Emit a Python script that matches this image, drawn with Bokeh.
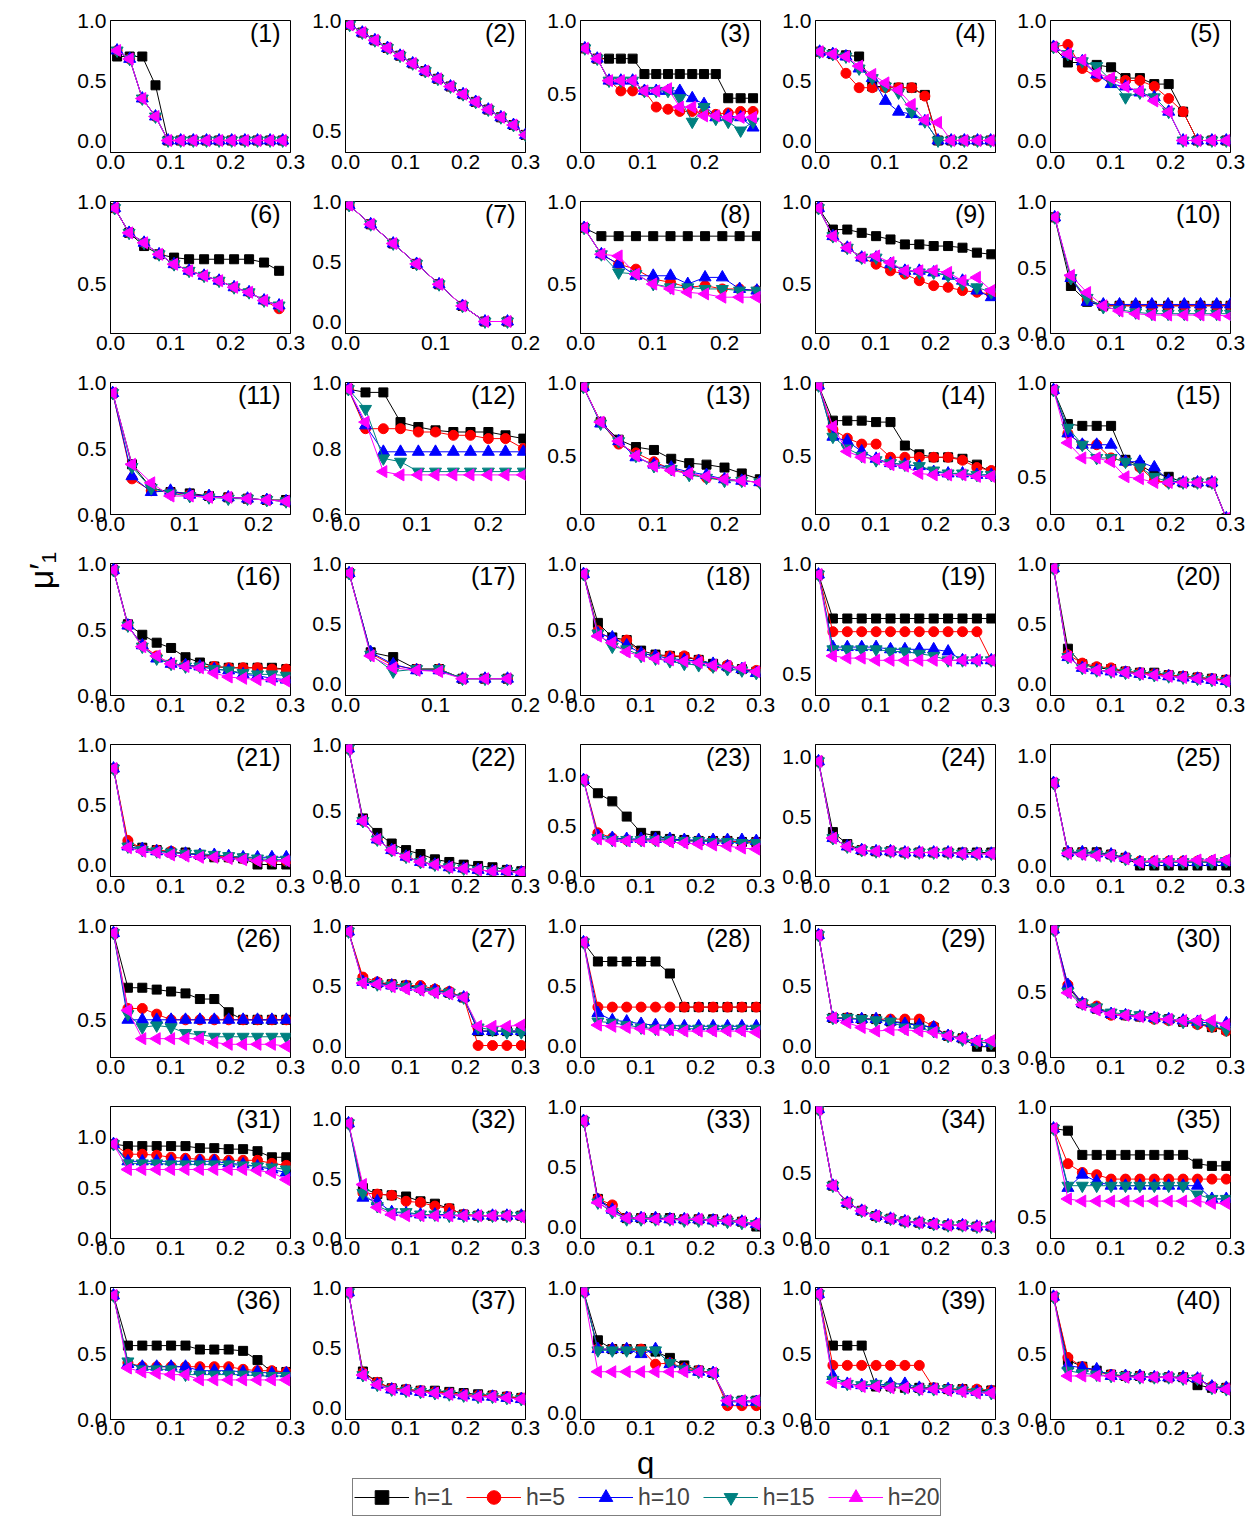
import math
from bokeh.plotting import figure
from bokeh.layouts import gridplot, column, row
from bokeh.models import Range1d, FixedTicker, PrintfTickFormatter, Label, Legend, LegendItem
from bokeh.embed import file_html
from bokeh.resources import INLINE

FONT = "Liberation Sans"
SERIES = ["h=1", "h=5", "h=10", "h=15", "h=20"]
COLORS = ["#000000", "#FF0000", "#0000FF", "#008080", "#FF00FF"]
MARKERS = ["square", "circle", "triangle", "inverted_triangle", "triangle"]
ANGLES = [0, 0, 0, 0, math.pi / 2]
SIZES = [9, 10, 12, 12, 12]

# ---- q grids (sampling points of each panel) ----
Q14A = [0.011, 0.032, 0.053, 0.075, 0.096, 0.117, 0.138, 0.16, 0.181, 0.202, 0.224, 0.245, 0.266, 0.287]
Q15A = [0.007, 0.028, 0.049, 0.07, 0.091, 0.112, 0.133, 0.154, 0.175, 0.196, 0.217, 0.238, 0.259, 0.28, 0.3]
Q15B = [0.007, 0.027, 0.046, 0.065, 0.084, 0.103, 0.122, 0.141, 0.16, 0.18, 0.199, 0.218, 0.238, 0.258, 0.278]
Q14B = [0.006, 0.025, 0.044, 0.063, 0.082, 0.101, 0.12, 0.139, 0.158, 0.177, 0.196, 0.215, 0.234, 0.253]
Q13 = [0.005, 0.029, 0.053, 0.077, 0.101, 0.125, 0.149, 0.173, 0.197, 0.221, 0.245, 0.269, 0.293]
Q12A = [0.007, 0.031, 0.056, 0.081, 0.106, 0.131, 0.156, 0.181, 0.206, 0.231, 0.256, 0.281]
Q8 = [0.004, 0.028, 0.053, 0.079, 0.104, 0.13, 0.155, 0.18]
Q11A = [0.005, 0.029, 0.053, 0.077, 0.101, 0.125, 0.149, 0.173, 0.197, 0.221, 0.245]
Q12B = [0.007, 0.034, 0.061, 0.088, 0.115, 0.142, 0.169, 0.196, 0.223, 0.25, 0.277, 0.3]
Q10 = [0.003, 0.029, 0.055, 0.081, 0.107, 0.133, 0.159, 0.185, 0.211, 0.237]
Q11B = [0.004, 0.028, 0.053, 0.077, 0.102, 0.126, 0.151, 0.175, 0.2, 0.224, 0.249]

# ---- mu'_1 values, order: h=1, h=5, h=10, h=15, h=20 ----
mu01 = [[0.70, 0.70, 0.70, 0.46, 0, 0, 0, 0, 0, 0, 0, 0, 0, 0],
        [0.75, 0.68, 0.35, 0.20, 0, 0, 0, 0, 0, 0, 0, 0, 0, 0],
        [0.75, 0.68, 0.35, 0.20, 0, 0, 0, 0, 0, 0, 0, 0, 0, 0],
        [0.75, 0.68, 0.35, 0.20, 0, 0, 0, 0, 0, 0, 0, 0, 0, 0],
        [0.75, 0.68, 0.35, 0.20, 0, 0, 0, 0, 0, 0, 0, 0, 0, 0]]
mu02 = [[0.98, 0.945, 0.91, 0.875, 0.84, 0.805, 0.77, 0.735, 0.70, 0.665, 0.63, 0.595, 0.56, 0.525, 0.48],
        [0.98, 0.945, 0.91, 0.875, 0.84, 0.805, 0.77, 0.735, 0.70, 0.665, 0.63, 0.595, 0.56, 0.525, 0.48],
        [0.98, 0.945, 0.91, 0.875, 0.84, 0.805, 0.77, 0.735, 0.70, 0.665, 0.63, 0.595, 0.56, 0.525, 0.48],
        [0.98, 0.945, 0.91, 0.875, 0.84, 0.805, 0.77, 0.735, 0.70, 0.665, 0.63, 0.595, 0.56, 0.525, 0.48],
        [0.98, 0.945, 0.91, 0.875, 0.84, 0.805, 0.77, 0.735, 0.70, 0.665, 0.63, 0.595, 0.56, 0.525, 0.48]]
mu03 = [[0.81, 0.74, 0.74, 0.74, 0.74, 0.635, 0.635, 0.635, 0.635, 0.635, 0.635, 0.635, 0.47, 0.47, 0.47],
        [0.81, 0.74, 0.59, 0.52, 0.52, 0.52, 0.41, 0.395, 0.38, 0.38, 0.37, 0.36, 0.37, 0.38, 0.38],
        [0.81, 0.74, 0.59, 0.59, 0.59, 0.52, 0.52, 0.52, 0.52, 0.47, 0.43, 0.34, 0.35, 0.34, 0.27],
        [0.81, 0.74, 0.59, 0.59, 0.59, 0.52, 0.52, 0.52, 0.47, 0.31, 0.41, 0.33, 0.31, 0.25, 0.31],
        [0.81, 0.74, 0.59, 0.59, 0.59, 0.52, 0.52, 0.535, 0.41, 0.41, 0.35, 0.35, 0.34, 0.34, 0.34]]
mu04 = [[0.74, 0.72, 0.71, 0.70, 0.45, 0.45, 0.44, 0.44, 0.38, 0, 0, 0, 0, 0],
        [0.74, 0.72, 0.56, 0.44, 0.44, 0.44, 0.44, 0.44, 0.37, 0, 0, 0, 0, 0],
        [0.74, 0.72, 0.70, 0.60, 0.52, 0.33, 0.24, 0.22, 0.16, 0, 0, 0, 0, 0],
        [0.74, 0.72, 0.70, 0.60, 0.52, 0.45, 0.40, 0.24, 0.16, 0, 0, 0, 0, 0],
        [0.74, 0.72, 0.70, 0.62, 0.55, 0.48, 0.42, 0.30, 0.17, 0.15, 0, 0, 0, 0]]
mu05 = [[0.78, 0.65, 0.65, 0.63, 0.61, 0.52, 0.52, 0.47, 0.47, 0.24, 0, 0, 0],
        [0.78, 0.80, 0.60, 0.53, 0.51, 0.50, 0.50, 0.45, 0.35, 0.24, 0, 0, 0],
        [0.78, 0.72, 0.66, 0.55, 0.47, 0.45, 0.40, 0.36, 0.24, 0, 0, 0, 0],
        [0.78, 0.72, 0.66, 0.62, 0.50, 0.36, 0.40, 0.36, 0.24, 0, 0, 0, 0],
        [0.78, 0.72, 0.67, 0.56, 0.52, 0.45, 0.41, 0.33, 0.24, 0, 0, 0, 0]]
mu06 = [[0.96, 0.81, 0.73, 0.68, 0.66, 0.65, 0.65, 0.65, 0.65, 0.65, 0.63, 0.58],
        [0.96, 0.81, 0.75, 0.68, 0.62, 0.58, 0.55, 0.52, 0.48, 0.45, 0.40, 0.35],
        [0.96, 0.81, 0.75, 0.68, 0.62, 0.58, 0.55, 0.52, 0.48, 0.45, 0.40, 0.37],
        [0.96, 0.81, 0.75, 0.68, 0.62, 0.58, 0.55, 0.52, 0.48, 0.45, 0.40, 0.37],
        [0.96, 0.81, 0.75, 0.68, 0.62, 0.58, 0.55, 0.52, 0.48, 0.45, 0.40, 0.37]]
mu07 = [[0.97, 0.81, 0.65, 0.48, 0.31, 0.13, 0.0, 0.0],
        [0.97, 0.81, 0.65, 0.48, 0.31, 0.13, 0.0, 0.0],
        [0.97, 0.81, 0.65, 0.48, 0.31, 0.13, 0.0, 0.0],
        [0.97, 0.81, 0.65, 0.48, 0.31, 0.13, 0.0, 0.0],
        [0.97, 0.81, 0.65, 0.48, 0.31, 0.13, 0.0, 0.0]]
mu08 = [[0.84, 0.79, 0.79, 0.79, 0.79, 0.79, 0.79, 0.79, 0.79, 0.79, 0.79],
        [0.84, 0.68, 0.62, 0.59, 0.53, 0.51, 0.48, 0.49, 0.47, 0.47, 0.46],
        [0.84, 0.68, 0.62, 0.55, 0.55, 0.55, 0.50, 0.54, 0.54, 0.47, 0.46],
        [0.84, 0.68, 0.57, 0.56, 0.50, 0.48, 0.48, 0.47, 0.47, 0.46, 0.46],
        [0.84, 0.68, 0.67, 0.56, 0.50, 0.47, 0.45, 0.44, 0.42, 0.42, 0.42]]
mu09 = [[0.96, 0.83, 0.83, 0.81, 0.79, 0.77, 0.74, 0.74, 0.73, 0.73, 0.72, 0.69, 0.68],
        [0.96, 0.79, 0.72, 0.66, 0.62, 0.58, 0.56, 0.52, 0.49, 0.48, 0.46, 0.45, 0.44],
        [0.96, 0.79, 0.72, 0.66, 0.66, 0.62, 0.58, 0.58, 0.57, 0.55, 0.52, 0.46, 0.42],
        [0.96, 0.79, 0.72, 0.66, 0.66, 0.62, 0.58, 0.57, 0.57, 0.55, 0.50, 0.48, 0.45],
        [0.96, 0.79, 0.72, 0.66, 0.67, 0.63, 0.58, 0.58, 0.58, 0.57, 0.52, 0.54, 0.46]]
mu10 = [[0.88, 0.36, 0.24, 0.21, 0.21, 0.21, 0.21, 0.21, 0.21, 0.21, 0.21, 0.21],
        [0.88, 0.42, 0.26, 0.21, 0.21, 0.21, 0.21, 0.21, 0.21, 0.21, 0.21, 0.21],
        [0.88, 0.42, 0.24, 0.22, 0.22, 0.22, 0.22, 0.22, 0.22, 0.22, 0.22, 0.22],
        [0.88, 0.42, 0.27, 0.20, 0.18, 0.16, 0.15, 0.15, 0.15, 0.15, 0.15, 0.15],
        [0.88, 0.44, 0.31, 0.21, 0.17, 0.15, 0.14, 0.14, 0.14, 0.14, 0.14, 0.13]]
mu11 = [[0.92, 0.38, 0.20, 0.17, 0.16, 0.14, 0.13, 0.12, 0.11, 0.11],
        [0.92, 0.27, 0.18, 0.17, 0.15, 0.14, 0.13, 0.12, 0.11, 0.10],
        [0.92, 0.29, 0.17, 0.18, 0.15, 0.14, 0.13, 0.12, 0.11, 0.10],
        [0.92, 0.36, 0.20, 0.16, 0.14, 0.13, 0.12, 0.12, 0.11, 0.10],
        [0.92, 0.38, 0.24, 0.14, 0.14, 0.13, 0.13, 0.12, 0.11, 0.10]]
mu12 = [[0.98, 0.97, 0.97, 0.88, 0.865, 0.855, 0.85, 0.85, 0.85, 0.84, 0.83],
        [0.98, 0.86, 0.86, 0.86, 0.85, 0.85, 0.84, 0.84, 0.83, 0.83, 0.80],
        [0.98, 0.87, 0.79, 0.79, 0.79, 0.79, 0.79, 0.79, 0.79, 0.79, 0.79],
        [0.98, 0.92, 0.77, 0.76, 0.73, 0.73, 0.73, 0.73, 0.73, 0.73, 0.73],
        [0.98, 0.88, 0.73, 0.72, 0.72, 0.72, 0.72, 0.72, 0.72, 0.72, 0.72]]
mu13 = [[0.97, 0.73, 0.61, 0.56, 0.54, 0.48, 0.45, 0.44, 0.42, 0.38, 0.34],
        [0.97, 0.73, 0.58, 0.52, 0.46, 0.41, 0.38, 0.35, 0.34, 0.33, 0.32],
        [0.97, 0.72, 0.60, 0.49, 0.44, 0.42, 0.39, 0.37, 0.34, 0.33, 0.32],
        [0.97, 0.72, 0.60, 0.50, 0.43, 0.41, 0.37, 0.35, 0.33, 0.33, 0.32],
        [0.97, 0.73, 0.60, 0.50, 0.43, 0.40, 0.38, 0.36, 0.34, 0.33, 0.32]]
mu14 = [[0.98, 0.74, 0.74, 0.74, 0.73, 0.73, 0.57, 0.51, 0.49, 0.49, 0.48, 0.44, 0.39],
        [0.98, 0.68, 0.62, 0.58, 0.58, 0.49, 0.49, 0.49, 0.49, 0.49, 0.47, 0.42, 0.40],
        [0.98, 0.63, 0.60, 0.53, 0.48, 0.45, 0.44, 0.43, 0.39, 0.38, 0.38, 0.37, 0.37],
        [0.98, 0.63, 0.55, 0.50, 0.47, 0.45, 0.44, 0.43, 0.40, 0.38, 0.38, 0.37, 0.37],
        [0.98, 0.70, 0.53, 0.49, 0.48, 0.44, 0.43, 0.38, 0.37, 0.37, 0.37, 0.36, 0.36]]
mu15 = [[0.96, 0.78, 0.77, 0.77, 0.77, 0.59, 0.56, 0.52, 0.50, 0.47, 0.47, 0.47, 0.28],
        [0.96, 0.73, 0.67, 0.67, 0.60, 0.58, 0.55, 0.48, 0.47, 0.47, 0.47, 0.47, 0.28],
        [0.96, 0.73, 0.67, 0.67, 0.67, 0.58, 0.58, 0.55, 0.48, 0.47, 0.47, 0.47, 0.28],
        [0.96, 0.76, 0.67, 0.60, 0.60, 0.58, 0.55, 0.50, 0.47, 0.47, 0.47, 0.47, 0.28],
        [0.96, 0.68, 0.60, 0.60, 0.58, 0.50, 0.49, 0.47, 0.47, 0.47, 0.47, 0.47, 0.28]]
mu16 = [[0.95, 0.54, 0.46, 0.40, 0.36, 0.29, 0.25, 0.22, 0.21, 0.21, 0.21, 0.21, 0.20],
        [0.95, 0.53, 0.38, 0.30, 0.24, 0.23, 0.22, 0.22, 0.21, 0.21, 0.21, 0.20, 0.20],
        [0.95, 0.53, 0.38, 0.28, 0.24, 0.23, 0.22, 0.20, 0.19, 0.16, 0.15, 0.13, 0.12],
        [0.95, 0.53, 0.37, 0.28, 0.24, 0.22, 0.22, 0.20, 0.19, 0.17, 0.16, 0.16, 0.15],
        [0.95, 0.53, 0.37, 0.30, 0.24, 0.22, 0.21, 0.17, 0.14, 0.13, 0.12, 0.12, 0.11]]
mu17 = [[0.92, 0.26, 0.22, 0.12, 0.12, 0.04, 0.04, 0.04],
        [0.92, 0.25, 0.15, 0.12, 0.12, 0.04, 0.04, 0.04],
        [0.92, 0.26, 0.16, 0.11, 0.11, 0.04, 0.04, 0.04],
        [0.92, 0.24, 0.10, 0.12, 0.12, 0.04, 0.04, 0.04],
        [0.92, 0.23, 0.13, 0.11, 0.10, 0.04, 0.04, 0.04]]
mu18 = [[0.92, 0.55, 0.44, 0.42, 0.34, 0.31, 0.30, 0.29, 0.27, 0.24, 0.22, 0.20, 0.18],
        [0.92, 0.49, 0.42, 0.42, 0.32, 0.30, 0.30, 0.30, 0.27, 0.22, 0.23, 0.20, 0.19],
        [0.92, 0.47, 0.44, 0.38, 0.32, 0.30, 0.28, 0.27, 0.26, 0.24, 0.22, 0.20, 0.17],
        [0.92, 0.47, 0.37, 0.35, 0.30, 0.28, 0.26, 0.24, 0.23, 0.22, 0.20, 0.19, 0.17],
        [0.92, 0.45, 0.40, 0.33, 0.30, 0.28, 0.27, 0.26, 0.25, 0.23, 0.22, 0.21, 0.18]]
mu19 = [[0.95, 0.75, 0.75, 0.75, 0.75, 0.75, 0.75, 0.75, 0.75, 0.75, 0.75, 0.75, 0.75],
        [0.95, 0.69, 0.69, 0.69, 0.69, 0.69, 0.69, 0.69, 0.69, 0.69, 0.69, 0.69, 0.56],
        [0.95, 0.62, 0.62, 0.62, 0.62, 0.61, 0.61, 0.61, 0.61, 0.60, 0.56, 0.56, 0.56],
        [0.95, 0.61, 0.61, 0.61, 0.61, 0.60, 0.60, 0.59, 0.58, 0.56, 0.56, 0.56, 0.56],
        [0.95, 0.58, 0.57, 0.57, 0.56, 0.56, 0.56, 0.56, 0.56, 0.56, 0.56, 0.56, 0.56]]
mu20 = [[0.96, 0.29, 0.16, 0.13, 0.12, 0.10, 0.09, 0.09, 0.07, 0.06, 0.05, 0.04, 0.03],
        [0.96, 0.24, 0.17, 0.14, 0.13, 0.10, 0.09, 0.08, 0.07, 0.06, 0.05, 0.04, 0.03],
        [0.96, 0.22, 0.13, 0.11, 0.10, 0.09, 0.08, 0.07, 0.06, 0.05, 0.04, 0.03, 0.02],
        [0.96, 0.22, 0.13, 0.11, 0.10, 0.09, 0.08, 0.07, 0.06, 0.05, 0.04, 0.03, 0.02],
        [0.96, 0.22, 0.13, 0.11, 0.10, 0.09, 0.08, 0.07, 0.06, 0.05, 0.04, 0.03, 0.02]]
mu21 = [[0.80, 0.17, 0.14, 0.12, 0.10, 0.10, 0.08, 0.06, 0.06, 0.05, 0.0, 0.0, 0.0],
        [0.80, 0.20, 0.13, 0.12, 0.11, 0.09, 0.08, 0.07, 0.06, 0.05, 0.04, 0.03, 0.03],
        [0.80, 0.15, 0.13, 0.11, 0.10, 0.09, 0.08, 0.08, 0.07, 0.06, 0.06, 0.06, 0.06],
        [0.80, 0.15, 0.12, 0.11, 0.10, 0.09, 0.09, 0.08, 0.07, 0.06, 0.05, 0.04, 0.04],
        [0.80, 0.14, 0.11, 0.10, 0.08, 0.07, 0.06, 0.06, 0.05, 0.04, 0.03, 0.03, 0.03]]
mu22 = [[0.97, 0.44, 0.33, 0.25, 0.20, 0.17, 0.13, 0.11, 0.09, 0.08, 0.07, 0.05, 0.04],
        [0.97, 0.42, 0.28, 0.20, 0.15, 0.11, 0.09, 0.07, 0.06, 0.05, 0.04, 0.04, 0.03],
        [0.97, 0.42, 0.28, 0.20, 0.15, 0.11, 0.09, 0.07, 0.06, 0.05, 0.04, 0.04, 0.03],
        [0.97, 0.42, 0.28, 0.20, 0.15, 0.11, 0.09, 0.07, 0.06, 0.05, 0.04, 0.04, 0.03],
        [0.97, 0.42, 0.28, 0.20, 0.15, 0.11, 0.09, 0.07, 0.06, 0.05, 0.04, 0.04, 0.03]]
mu23 = [[0.95, 0.82, 0.74, 0.59, 0.43, 0.40, 0.37, 0.36, 0.35, 0.35, 0.35, 0.34, 0.34],
        [0.95, 0.43, 0.38, 0.36, 0.36, 0.36, 0.36, 0.35, 0.35, 0.35, 0.35, 0.34, 0.34],
        [0.95, 0.40, 0.38, 0.37, 0.37, 0.37, 0.37, 0.36, 0.36, 0.36, 0.36, 0.36, 0.35],
        [0.95, 0.38, 0.36, 0.36, 0.36, 0.36, 0.36, 0.35, 0.35, 0.34, 0.34, 0.33, 0.33],
        [0.95, 0.37, 0.35, 0.35, 0.35, 0.35, 0.34, 0.33, 0.32, 0.31, 0.30, 0.28, 0.27]]
mu24 = [[0.96, 0.37, 0.27, 0.22, 0.21, 0.21, 0.20, 0.20, 0.20, 0.20, 0.20, 0.20, 0.20],
        [0.96, 0.32, 0.25, 0.22, 0.21, 0.21, 0.20, 0.20, 0.20, 0.20, 0.19, 0.19, 0.19],
        [0.96, 0.32, 0.25, 0.22, 0.21, 0.21, 0.20, 0.20, 0.20, 0.20, 0.19, 0.19, 0.19],
        [0.96, 0.32, 0.25, 0.22, 0.21, 0.21, 0.20, 0.20, 0.20, 0.20, 0.19, 0.19, 0.19],
        [0.96, 0.32, 0.25, 0.22, 0.21, 0.21, 0.20, 0.20, 0.20, 0.20, 0.19, 0.19, 0.19]]
mu25 = [[0.75, 0.12, 0.12, 0.12, 0.10, 0.07, 0.0, 0.0, 0.0, 0.0, 0.0, 0.0, 0.0],
        [0.75, 0.12, 0.12, 0.11, 0.10, 0.07, 0.04, 0.04, 0.04, 0.04, 0.04, 0.04, 0.04],
        [0.75, 0.12, 0.12, 0.11, 0.10, 0.07, 0.03, 0.03, 0.03, 0.03, 0.03, 0.03, 0.03],
        [0.75, 0.11, 0.11, 0.10, 0.09, 0.06, 0.03, 0.03, 0.03, 0.03, 0.03, 0.03, 0.04],
        [0.75, 0.11, 0.10, 0.09, 0.09, 0.06, 0.03, 0.04, 0.04, 0.04, 0.05, 0.05, 0.05]]
mu26 = [[0.96, 0.67, 0.67, 0.66, 0.65, 0.64, 0.61, 0.61, 0.54, 0.50, 0.50, 0.50, 0.50],
        [0.96, 0.56, 0.56, 0.53, 0.50, 0.50, 0.50, 0.50, 0.50, 0.50, 0.50, 0.50, 0.50],
        [0.96, 0.50, 0.50, 0.50, 0.50, 0.50, 0.50, 0.50, 0.50, 0.50, 0.50, 0.50, 0.50],
        [0.96, 0.53, 0.46, 0.47, 0.46, 0.43, 0.42, 0.41, 0.41, 0.41, 0.41, 0.41, 0.41],
        [0.96, 0.55, 0.40, 0.40, 0.40, 0.40, 0.40, 0.38, 0.37, 0.37, 0.37, 0.37, 0.36]]
mu27 = [[0.95, 0.55, 0.52, 0.51, 0.50, 0.48, 0.46, 0.44, 0.40, 0.12, 0.12, 0.12, 0.12],
        [0.95, 0.57, 0.53, 0.51, 0.50, 0.50, 0.47, 0.45, 0.40, 0.0, 0.0, 0.0, 0.0],
        [0.95, 0.53, 0.52, 0.50, 0.49, 0.48, 0.46, 0.44, 0.40, 0.12, 0.12, 0.12, 0.12],
        [0.95, 0.53, 0.51, 0.50, 0.49, 0.47, 0.45, 0.44, 0.40, 0.15, 0.13, 0.11, 0.11],
        [0.95, 0.52, 0.51, 0.49, 0.47, 0.46, 0.44, 0.43, 0.40, 0.16, 0.16, 0.16, 0.17]]
mu28 = [[0.86, 0.70, 0.70, 0.70, 0.70, 0.70, 0.60, 0.32, 0.32, 0.32, 0.32, 0.32, 0.32],
        [0.86, 0.32, 0.32, 0.32, 0.32, 0.32, 0.32, 0.32, 0.32, 0.32, 0.32, 0.32, 0.32],
        [0.86, 0.27, 0.21, 0.20, 0.18, 0.17, 0.17, 0.16, 0.16, 0.16, 0.16, 0.16, 0.16],
        [0.86, 0.20, 0.19, 0.17, 0.15, 0.14, 0.14, 0.14, 0.14, 0.14, 0.14, 0.14, 0.14],
        [0.86, 0.17, 0.16, 0.15, 0.14, 0.13, 0.13, 0.12, 0.12, 0.12, 0.12, 0.12, 0.11]]
mu29 = [[0.92, 0.23, 0.23, 0.22, 0.22, 0.20, 0.19, 0.17, 0.15, 0.08, 0.06, -0.01, -0.01],
        [0.92, 0.23, 0.23, 0.22, 0.22, 0.22, 0.22, 0.22, 0.16, 0.08, 0.06, 0.03, 0.02],
        [0.92, 0.23, 0.22, 0.22, 0.22, 0.20, 0.18, 0.17, 0.15, 0.08, 0.06, 0.03, 0.02],
        [0.92, 0.23, 0.23, 0.22, 0.21, 0.20, 0.15, 0.14, 0.12, 0.08, 0.05, 0.03, 0.02],
        [0.92, 0.23, 0.19, 0.15, 0.12, 0.13, 0.13, 0.12, 0.11, 0.08, 0.06, 0.04, 0.04]]
mu30 = [[0.97, 0.53, 0.41, 0.37, 0.33, 0.32, 0.31, 0.30, 0.29, 0.27, 0.26, 0.23, 0.21],
        [0.97, 0.55, 0.41, 0.39, 0.32, 0.32, 0.31, 0.29, 0.28, 0.27, 0.25, 0.23, 0.20],
        [0.97, 0.55, 0.41, 0.37, 0.33, 0.32, 0.31, 0.30, 0.29, 0.28, 0.27, 0.26, 0.26],
        [0.97, 0.50, 0.41, 0.38, 0.34, 0.33, 0.32, 0.30, 0.29, 0.27, 0.26, 0.24, 0.21],
        [0.97, 0.49, 0.40, 0.36, 0.33, 0.32, 0.31, 0.30, 0.29, 0.28, 0.28, 0.28, 0.25]]
mu31 = [[0.93, 0.91, 0.91, 0.91, 0.91, 0.91, 0.89, 0.89, 0.88, 0.88, 0.86, 0.80, 0.80],
        [0.93, 0.83, 0.83, 0.82, 0.80, 0.79, 0.78, 0.78, 0.77, 0.77, 0.77, 0.74, 0.72],
        [0.93, 0.76, 0.76, 0.76, 0.76, 0.76, 0.76, 0.76, 0.74, 0.73, 0.71, 0.68, 0.65],
        [0.93, 0.74, 0.74, 0.74, 0.73, 0.73, 0.73, 0.73, 0.73, 0.72, 0.71, 0.70, 0.68],
        [0.93, 0.68, 0.68, 0.68, 0.68, 0.68, 0.68, 0.68, 0.68, 0.68, 0.67, 0.65, 0.58]]
mu32 = [[0.96, 0.42, 0.37, 0.36, 0.35, 0.31, 0.29, 0.25, 0.20, 0.19, 0.19, 0.19, 0.19],
        [0.96, 0.38, 0.37, 0.36, 0.31, 0.30, 0.27, 0.25, 0.20, 0.19, 0.19, 0.19, 0.19],
        [0.96, 0.34, 0.31, 0.22, 0.21, 0.20, 0.20, 0.20, 0.19, 0.19, 0.19, 0.19, 0.19],
        [0.96, 0.38, 0.27, 0.22, 0.22, 0.20, 0.20, 0.19, 0.19, 0.19, 0.19, 0.19, 0.19],
        [0.96, 0.45, 0.26, 0.20, 0.19, 0.19, 0.19, 0.19, 0.19, 0.19, 0.19, 0.19, 0.18]]
mu33 = [[0.88, 0.23, 0.15, 0.07, 0.07, 0.07, 0.07, 0.06, 0.06, 0.06, 0.05, 0.04, 0.0],
        [0.88, 0.23, 0.18, 0.07, 0.07, 0.07, 0.06, 0.06, 0.06, 0.05, 0.05, 0.04, 0.02],
        [0.88, 0.22, 0.14, 0.07, 0.07, 0.07, 0.06, 0.06, 0.06, 0.05, 0.05, 0.04, 0.02],
        [0.88, 0.20, 0.12, 0.06, 0.06, 0.06, 0.06, 0.05, 0.05, 0.05, 0.04, 0.03, 0.02],
        [0.88, 0.20, 0.13, 0.07, 0.07, 0.06, 0.06, 0.06, 0.06, 0.05, 0.05, 0.04, 0.02]]
mu34 = [[0.98, 0.40, 0.27, 0.21, 0.17, 0.15, 0.13, 0.12, 0.11, 0.10, 0.10, 0.09, 0.09],
        [0.98, 0.40, 0.27, 0.21, 0.17, 0.15, 0.13, 0.12, 0.11, 0.10, 0.10, 0.09, 0.09],
        [0.98, 0.40, 0.27, 0.21, 0.17, 0.15, 0.13, 0.12, 0.11, 0.10, 0.10, 0.09, 0.09],
        [0.98, 0.40, 0.27, 0.21, 0.17, 0.15, 0.13, 0.12, 0.11, 0.10, 0.10, 0.09, 0.09],
        [0.98, 0.40, 0.27, 0.21, 0.17, 0.15, 0.13, 0.12, 0.11, 0.10, 0.10, 0.09, 0.09]]
mu35 = [[0.90, 0.89, 0.78, 0.78, 0.78, 0.78, 0.78, 0.78, 0.78, 0.78, 0.74, 0.73, 0.73],
        [0.90, 0.74, 0.70, 0.69, 0.67, 0.67, 0.67, 0.67, 0.67, 0.67, 0.67, 0.67, 0.67],
        [0.90, 0.63, 0.69, 0.66, 0.64, 0.64, 0.64, 0.64, 0.64, 0.64, 0.64, 0.58, 0.58],
        [0.90, 0.64, 0.64, 0.64, 0.64, 0.64, 0.64, 0.64, 0.64, 0.64, 0.60, 0.58, 0.58],
        [0.90, 0.58, 0.57, 0.57, 0.57, 0.57, 0.57, 0.57, 0.57, 0.57, 0.57, 0.56, 0.56]]
mu36 = [[0.94, 0.56, 0.56, 0.56, 0.56, 0.56, 0.53, 0.53, 0.53, 0.52, 0.45, 0.36, 0.36],
        [0.94, 0.43, 0.40, 0.40, 0.40, 0.40, 0.40, 0.40, 0.40, 0.38, 0.37, 0.37, 0.36],
        [0.94, 0.42, 0.40, 0.40, 0.40, 0.40, 0.37, 0.37, 0.37, 0.36, 0.36, 0.35, 0.35],
        [0.94, 0.44, 0.38, 0.38, 0.38, 0.34, 0.34, 0.34, 0.34, 0.34, 0.33, 0.33, 0.33],
        [0.94, 0.39, 0.36, 0.35, 0.34, 0.34, 0.30, 0.30, 0.30, 0.30, 0.30, 0.30, 0.30]]
mu37 = [[0.96, 0.30, 0.21, 0.16, 0.15, 0.14, 0.14, 0.13, 0.12, 0.11, 0.10, 0.09, 0.08],
        [0.96, 0.29, 0.21, 0.16, 0.15, 0.14, 0.13, 0.12, 0.11, 0.10, 0.10, 0.09, 0.08],
        [0.96, 0.27, 0.19, 0.15, 0.14, 0.13, 0.12, 0.11, 0.10, 0.09, 0.09, 0.08, 0.07],
        [0.96, 0.27, 0.19, 0.15, 0.14, 0.13, 0.12, 0.11, 0.10, 0.09, 0.09, 0.08, 0.07],
        [0.96, 0.27, 0.19, 0.15, 0.14, 0.13, 0.12, 0.11, 0.10, 0.09, 0.09, 0.08, 0.07]]
mu38 = [[0.97, 0.58, 0.51, 0.51, 0.51, 0.49, 0.44, 0.38, 0.34, 0.32, 0.10, 0.10, 0.10],
        [0.97, 0.51, 0.51, 0.51, 0.51, 0.39, 0.40, 0.36, 0.34, 0.32, 0.06, 0.06, 0.06],
        [0.97, 0.51, 0.51, 0.51, 0.47, 0.51, 0.39, 0.35, 0.33, 0.32, 0.09, 0.09, 0.09],
        [0.97, 0.50, 0.50, 0.50, 0.50, 0.50, 0.40, 0.35, 0.33, 0.32, 0.10, 0.10, 0.10],
        [0.97, 0.33, 0.33, 0.33, 0.33, 0.33, 0.33, 0.33, 0.33, 0.32, 0.10, 0.10, 0.10]]
mu39 = [[0.95, 0.56, 0.56, 0.56, 0.25, 0.25, 0.24, 0.24, 0.24, 0.23, 0.23, 0.22, 0.22],
        [0.95, 0.41, 0.41, 0.41, 0.41, 0.41, 0.41, 0.41, 0.24, 0.23, 0.23, 0.23, 0.22],
        [0.95, 0.33, 0.27, 0.26, 0.26, 0.27, 0.27, 0.24, 0.23, 0.23, 0.22, 0.21, 0.21],
        [0.95, 0.30, 0.27, 0.26, 0.27, 0.25, 0.24, 0.23, 0.23, 0.23, 0.22, 0.21, 0.20],
        [0.95, 0.28, 0.27, 0.25, 0.25, 0.24, 0.24, 0.23, 0.23, 0.22, 0.21, 0.20, 0.20]]
mu40 = [[0.93, 0.45, 0.40, 0.37, 0.34, 0.33, 0.33, 0.32, 0.32, 0.32, 0.26, 0.24, 0.24],
        [0.93, 0.47, 0.40, 0.36, 0.34, 0.33, 0.33, 0.32, 0.32, 0.32, 0.31, 0.25, 0.24],
        [0.93, 0.41, 0.39, 0.38, 0.33, 0.33, 0.33, 0.32, 0.32, 0.32, 0.31, 0.25, 0.24],
        [0.93, 0.37, 0.35, 0.34, 0.33, 0.33, 0.32, 0.32, 0.32, 0.31, 0.31, 0.24, 0.23],
        [0.93, 0.33, 0.33, 0.33, 0.33, 0.32, 0.32, 0.32, 0.32, 0.31, 0.31, 0.24, 0.23]]

Q_OF = [Q14A, Q15A, Q15B, Q14B, Q13,
        Q12A, Q8, Q11A, Q13, Q12B,
        Q10, Q11B, Q11B, Q13, Q13,
        Q13, Q8, Q13, Q13, Q13,
        Q13, Q13, Q13, Q13, Q13,
        Q13, Q13, Q13, Q13, Q13,
        Q13, Q13, Q13, Q13, Q13,
        Q13, Q13, Q13, Q13, Q13]
MU = [mu01, mu02, mu03, mu04, mu05, mu06, mu07, mu08, mu09, mu10,
      mu11, mu12, mu13, mu14, mu15, mu16, mu17, mu18, mu19, mu20,
      mu21, mu22, mu23, mu24, mu25, mu26, mu27, mu28, mu29, mu30,
      mu31, mu32, mu33, mu34, mu35, mu36, mu37, mu38, mu39, mu40]

# axis limits of each panel
X_END = [0.3, 0.3, 0.29, 0.26, 0.3,
         0.3, 0.2, 0.25, 0.3, 0.3,
         0.243, 0.252, 0.25, 0.3, 0.3,
         0.3, 0.2, 0.3, 0.3, 0.3] + [0.3] * 20
Y_LIM = [(-0.1, 1.0), (0.4, 1.0), (0.1, 1.0), (-0.1, 1.0), (-0.1, 1.0),
         (0.2, 1.0), (-0.1, 1.0), (0.2, 1.0), (0.2, 1.0), (0.0, 1.0),
         (0.0, 1.0), (0.6, 1.0), (0.1, 1.0), (0.1, 1.0), (0.3, 1.0),
         (0.0, 1.0), (-0.1, 1.0), (0.0, 1.0), (0.4, 1.0), (-0.1, 1.0),
         (-0.1, 1.0), (0.0, 1.0), (0.0, 1.3), (0.0, 1.1), (-0.1, 1.1),
         (0.3, 1.0), (-0.1, 1.0), (-0.1, 1.0), (-0.1, 1.0), (0.0, 1.0),
         (0.0, 1.3), (0.0, 1.1), (-0.1, 1.0), (0.0, 1.0), (0.4, 1.0),
         (0.0, 1.0), (-0.1, 1.0), (-0.05, 1.0), (0.0, 1.0), (0.0, 1.0)]
X_TICKS = [0.0, 0.1, 0.2, 0.3]
Y_TICKS = [0.0, 0.5, 1.0]
Y_TICKS_12 = [0.6, 0.8, 1.0]
ROW_H = 181
LAST_ROW_H = 177


def make_panel(i):
    q, mu = Q_OF[i], MU[i]
    last = i >= 35
    p = figure(width=235, height=LAST_ROW_H if last else ROW_H, title=None,
               output_backend="svg", toolbar_location=None,
               x_range=Range1d(0.0, X_END[i]), y_range=Range1d(*Y_LIM[i]),
               min_border_left=40, min_border_right=15, min_border_top=20,
               min_border_bottom=25 if last else 29,
               background_fill_color="white", border_fill_color="white")
    p.outline_line_color = "black"
    p.outline_line_width = 1
    p.grid.visible = False
    p.xaxis.ticker = FixedTicker(ticks=X_TICKS)
    p.yaxis.ticker = FixedTicker(ticks=Y_TICKS_12 if i == 11 else Y_TICKS)
    for ax in (p.xaxis[0], p.yaxis[0]):
        ax.formatter = PrintfTickFormatter(format="%.1f")
        ax.major_tick_in = 0
        ax.major_tick_out = 0
        ax.minor_tick_line_color = None
        ax.axis_line_color = "black"
        ax.major_label_text_font = FONT
        ax.major_label_text_font_size = "21px"
        ax.major_label_text_color = "black"
    p.xaxis.major_label_standoff = 1 if last else 2
    p.yaxis.major_label_standoff = 4
    for k in range(5):
        p.line(q, mu[k], line_color=COLORS[k], line_width=1)
        p.scatter(q, mu[k], marker=MARKERS[k], size=SIZES[k], angle=ANGLES[k],
                  fill_color=COLORS[k], line_color=COLORS[k])
    p.add_layout(Label(x=X_END[i], y=Y_LIM[i][1], x_offset=-10, y_offset=2,
                       text=f"({i + 1})", text_align="right", text_baseline="top",
                       text_font=FONT, text_font_size="25px", text_color="black"))
    return p


panels = [make_panel(i) for i in range(40)]
grid = gridplot(panels, ncols=5, toolbar_location=None)

GRID_H = 7 * ROW_H + LAST_ROW_H
ylab = figure(width=70, height=GRID_H, title=None, output_backend="svg", toolbar_location=None,
              x_range=Range1d(0, 1), y_range=Range1d(0, 1), x_axis_type=None, y_axis_type=None,
              min_border=0, outline_line_color=None)
ylab.grid.visible = False
ylab.add_layout(Label(x=40, y=GRID_H - 570, x_units="screen", y_units="screen", text="μ′₁",
                      angle=math.pi / 2, text_align="center", text_baseline="middle",
                      text_font=FONT, text_font_size="34px", text_color="black"))

LEG_H = 1517 - GRID_H
bottom = figure(width=1245, height=LEG_H, title=None, output_backend="svg", toolbar_location=None,
                x_range=Range1d(0, 1), y_range=Range1d(5, 6), x_axis_type=None, y_axis_type=None,
                min_border=0, outline_line_color=None)
bottom.grid.visible = False
bottom.add_layout(Label(x=645, y=LEG_H - 1, x_units="screen", y_units="screen", text="q",
                        text_align="center", text_baseline="top",
                        text_font=FONT, text_font_size="31px", text_color="black"))
items = []
for k in range(5):
    # one real sample per series (outside the visible range) so the legend can draw its glyph
    xs, ys = [Q_OF[0][0]], [MU[0][k][0]]
    r1 = bottom.line(xs, ys, line_color=COLORS[k], line_width=1)
    r2 = bottom.scatter(xs, ys, marker=MARKERS[k], size=20, angle=ANGLES[k],
                        fill_color=COLORS[k], line_color=COLORS[k])
    items.append(LegendItem(label=SERIES[k], renderers=[r1, r2]))
leg = Legend(items=items, orientation="horizontal", location=(352, 1),
             border_line_color="black", border_line_width=1, padding=1, spacing=13,
             glyph_width=55, glyph_height=34, label_standoff=5, margin=0,
             label_text_font=FONT, label_text_font_size="23px", label_height=24,
             background_fill_color="white", background_fill_alpha=1)
bottom.add_layout(leg, "center")

layout = column(row(ylab, grid), bottom)
open("out.html", "w").write(file_html(layout, INLINE))
